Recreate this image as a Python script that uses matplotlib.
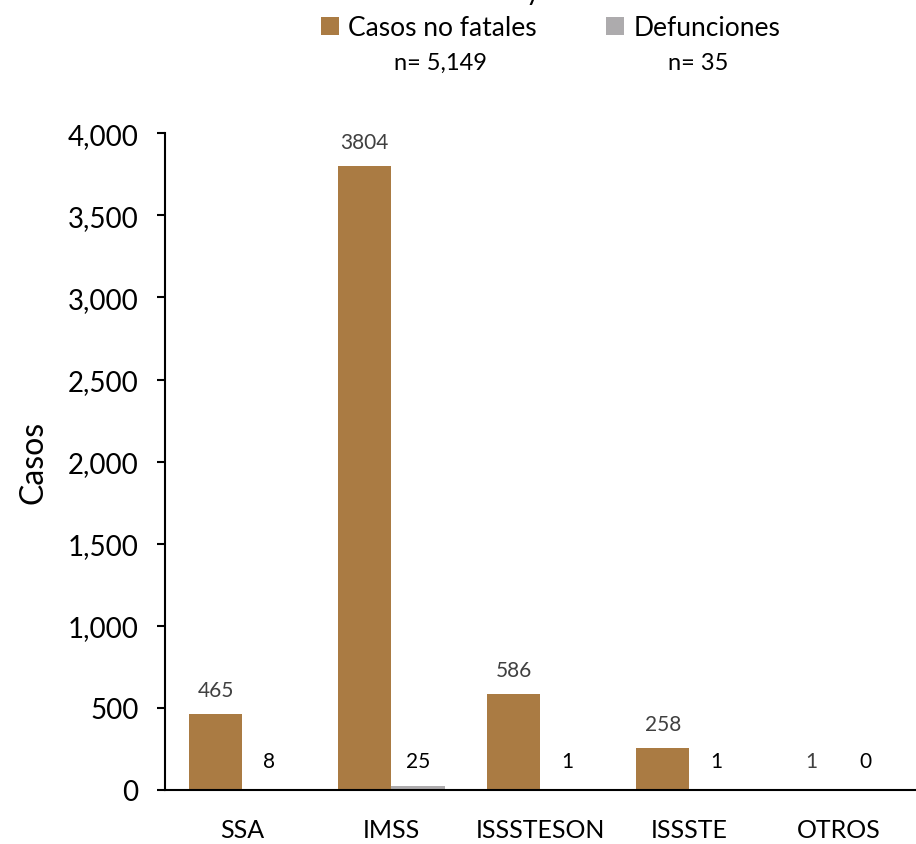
"""Casos no fatales y defunciones por institución (barras agrupadas)."""
import matplotlib

matplotlib.use("Agg")
import matplotlib.pyplot as plt
import numpy as np

plt.rcParams["font.family"] = ["Lato", "DejaVu Sans"]

INSTITUCIONES = ["SSA", "IMSS", "ISSSTESON", "ISSSTE", "OTROS"]
CASOS_NO_FATALES = [465, 3804, 586, 258, 1]
DEFUNCIONES = [8, 25, 1, 1, 0]
Y_TICKS = [0, 500, 1000, 1500, 2000, 2500, 3000, 3500, 4000]

COLOR_CASOS = "#AA7B43"
COLOR_DEF = "#ADABAD"
BAR_W = 0.36

fig = plt.figure(figsize=(9.16, 8.45), dpi=100)
ax = fig.add_axes([0.180, 0.064, 0.820, 0.777])

x = np.arange(len(INSTITUCIONES))
ax.bar(x - BAR_W / 2, CASOS_NO_FATALES, BAR_W, color=COLOR_CASOS, label="Casos no fatales")
ax.bar(x + BAR_W / 2, DEFUNCIONES, BAR_W, color=COLOR_DEF, label="Defunciones")

# etiquetas de valor; las pequeñas quedan a una altura mínima sobre el eje
for xi, v in zip(x, CASOS_NO_FATALES):
    ax.annotate(str(v), (xi - BAR_W / 2, max(v, 30)), xytext=(0, 10),
                textcoords="offset points", ha="center", va="bottom",
                fontsize=15, color="#404040")
for xi, v in zip(x, DEFUNCIONES):
    ax.annotate(str(v), (xi + BAR_W / 2, max(v, 30)), xytext=(0, 10),
                textcoords="offset points", ha="center", va="bottom",
                fontsize=15, color="black")

ax.set_xlim(-0.52, len(INSTITUCIONES) - 0.48)
ax.set_ylim(0, 4000)
ax.set_yticks(Y_TICKS)
ax.set_yticklabels([f"{t:,}" for t in Y_TICKS], fontsize=20)
ax.set_xticks(x)
ax.set_xticklabels(INSTITUCIONES, fontsize=18)
ax.tick_params(axis="x", length=0, pad=20)
ax.tick_params(axis="y", length=6, width=1.5, pad=13)
ax.set_ylabel("Casos", fontsize=23, labelpad=14)
for s in ("top", "right"):
    ax.spines[s].set_visible(False)
for s in ("left", "bottom"):
    ax.spines[s].set_linewidth(1.5)

fig.legend(loc="upper center", bbox_to_anchor=(0.601, 1.009), ncol=2, frameon=False,
           fontsize=19, handlelength=0.7, handleheight=0.7, handletextpad=0.35,
           columnspacing=2.6)
fig.text(440 / 916, 1 - 63 / 845, "n= 5,149", ha="center", va="center", fontsize=17)
fig.text(698 / 916, 1 - 63 / 845, "n= 35", ha="center", va="center", fontsize=17)
# título recortado en el original: sólo asoma el rabo de la "y"
fig.text(533 / 916, 1.0, "y", ha="center", va="baseline", fontsize=20)

fig.savefig("out.png", dpi=100)
